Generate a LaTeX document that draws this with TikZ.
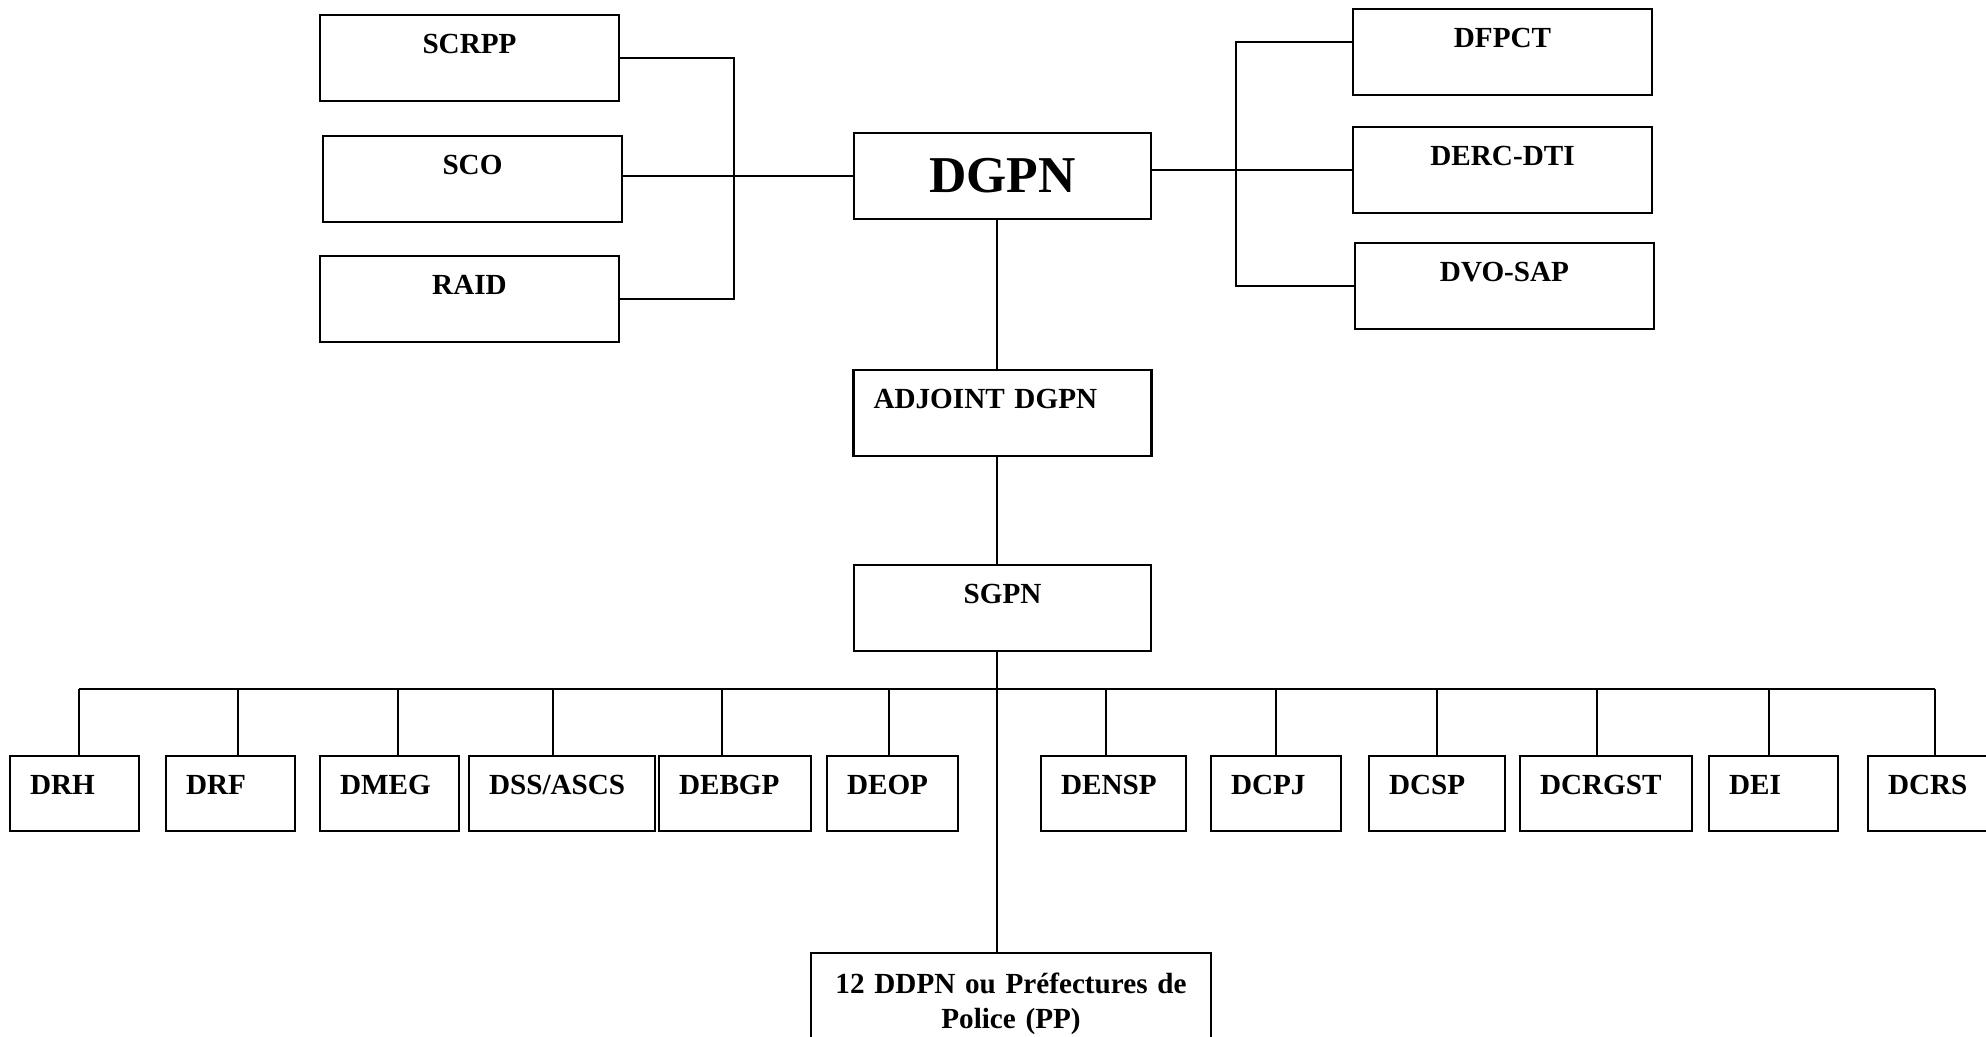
\documentclass[tikz,border=0pt]{standalone}
\usepackage{fontspec}
\setmainfont{Liberation Serif}
\usepackage{tikz}

\begin{document}
\begin{tikzpicture}[auto,
    midbox/.style={draw, line width=0.6pt, minimum width=2.99cm, minimum height=0.86cm, inner ysep=0pt, text height=0.39cm, text depth=0.47cm, font=\fontsize{8.3}{10.2}\selectfont\bfseries},
    lowbox/.style={draw, line width=0.6pt, inner xsep=0.2cm, inner ysep=0pt, text width=#1, text height=0.39cm, text depth=0.36cm, font=\fontsize{8.3}{10.2}\selectfont\bfseries},
    wire/.style={line width=0.5pt}]
    \useasboundingbox (0,0) rectangle (19.86,10.36);

    \node[midbox] (aa) at (4.695,9.78) {SCRPP};
    \node[midbox] (ab) at (4.725,8.57) {SCO};
    \node[midbox] (ac) at (4.695,7.37) {RAID};

    \node[midbox] (ba) at (15.025,9.84) {DFPCT};
    \node[midbox] (bb) at (15.025,8.66) {DERC-DTI};
    \node[midbox] (bc) at (15.045,7.50) {DVO-SAP};

    \node[draw, line width=0.6pt, minimum width=2.97cm, minimum height=0.86cm, font=\fontsize{14.7}{17}\selectfont\bfseries] (ca) at (10.025,8.60) {DGPN};
    \node[lowbox=2.58cm, text depth=0.47cm] (cb) at (10.025,6.23) {ADJOINT DGPN};
    \node[midbox, minimum width=2.97cm] (cc) at (10.025,4.28) {SGPN};

    \node[lowbox=0.89cm] (da) at (0.745,2.425) {DRH};
    \node[lowbox=0.89cm] (db) at (2.305,2.425) {DRF};
    \node[lowbox=0.99cm] (dc) at (3.895,2.425) {DMEG};
    \node[lowbox=1.46cm] (dd) at (5.62,2.425) {DSS/ASCS};
    \node[lowbox=1.12cm] (de) at (7.35,2.425) {DEBGP};
    \node[lowbox=0.91cm] (df) at (8.925,2.425) {DEOP};
    \node[lowbox=1.05cm] (dg) at (11.135,2.425) {DENSP};
    \node[lowbox=0.90cm] (dh) at (12.76,2.425) {DCPJ};
    \node[lowbox=0.96cm] (di) at (14.37,2.425) {DCSP};
    \node[lowbox=1.32cm] (dj) at (16.06,2.425) {DCRGST};
    \node[lowbox=0.89cm] (dk) at (17.735,2.425) {DEI};
    \node[lowbox=0.89cm] (dl) at (19.325,2.425) {DCRS};

    \node[lowbox=3.6cm, align=center, anchor=north, text height=0.40cm, text depth=0.8cm] (ea) at (10.11,0.84) {12 DDPN ou Préfectures de\\ Police (PP)};

    \coordinate (lbr) at (7.34,8.6);
    \coordinate (rbr) at (12.36,8.6);
    \coordinate (bus) at (10,3.47);
    \coordinate (trk) at (9.97,3.47);

    \draw[wire] (aa.east) -| (ac.east -| lbr) -- (ac.east);
    \draw[wire] (ca.west -| ab.east) -- (ca.west);
    \draw[wire] ([yshift=0.1cm]ba.west) -| (bc.west -| rbr) -- (bc.west);
    \draw[wire] (ca.east |- bb.west) -- (bb.west);

    \draw[wire] (ca.south -| trk) -- (cb.north -| trk);
    \draw[wire] (cb.south -| trk) -- (cc.north -| trk);
    \draw[wire] (cc.south -| trk) -- (ea.north -| trk);

    \draw[wire] ([xshift=0.045cm]da.north |- bus) -- ([xshift=0.025cm]dl.north |- bus);
    \draw[wire] ([xshift=0.045cm]da.north) -- ([xshift=0.045cm]da.north |- bus);
    \draw[wire] ([xshift=0.075cm]db.north) -- ([xshift=0.075cm]db.north |- bus);
    \draw[wire] ([xshift=0.085cm]dc.north) -- ([xshift=0.085cm]dc.north |- bus);
    \draw[wire] ([xshift=-0.09cm]dd.north) -- ([xshift=-0.09cm]dd.north |- bus);
    \draw[wire] ([xshift=-0.13cm]de.north) -- ([xshift=-0.13cm]de.north |- bus);
    \draw[wire] ([xshift=-0.035cm]df.north) -- ([xshift=-0.035cm]df.north |- bus);
    \draw[wire] ([xshift=-0.075cm]dg.north) -- ([xshift=-0.075cm]dg.north |- bus);
    \draw[wire] (dh.north) -- (dh.north |- bus);
    \draw[wire] (di.north) -- (di.north |- bus);
    \draw[wire] ([xshift=-0.09cm]dj.north) -- ([xshift=-0.09cm]dj.north |- bus);
    \draw[wire] ([xshift=-0.045cm]dk.north) -- ([xshift=-0.045cm]dk.north |- bus);
    \draw[wire] ([xshift=0.025cm]dl.north) -- ([xshift=0.025cm]dl.north |- bus);

\end{tikzpicture}
\end{document}
